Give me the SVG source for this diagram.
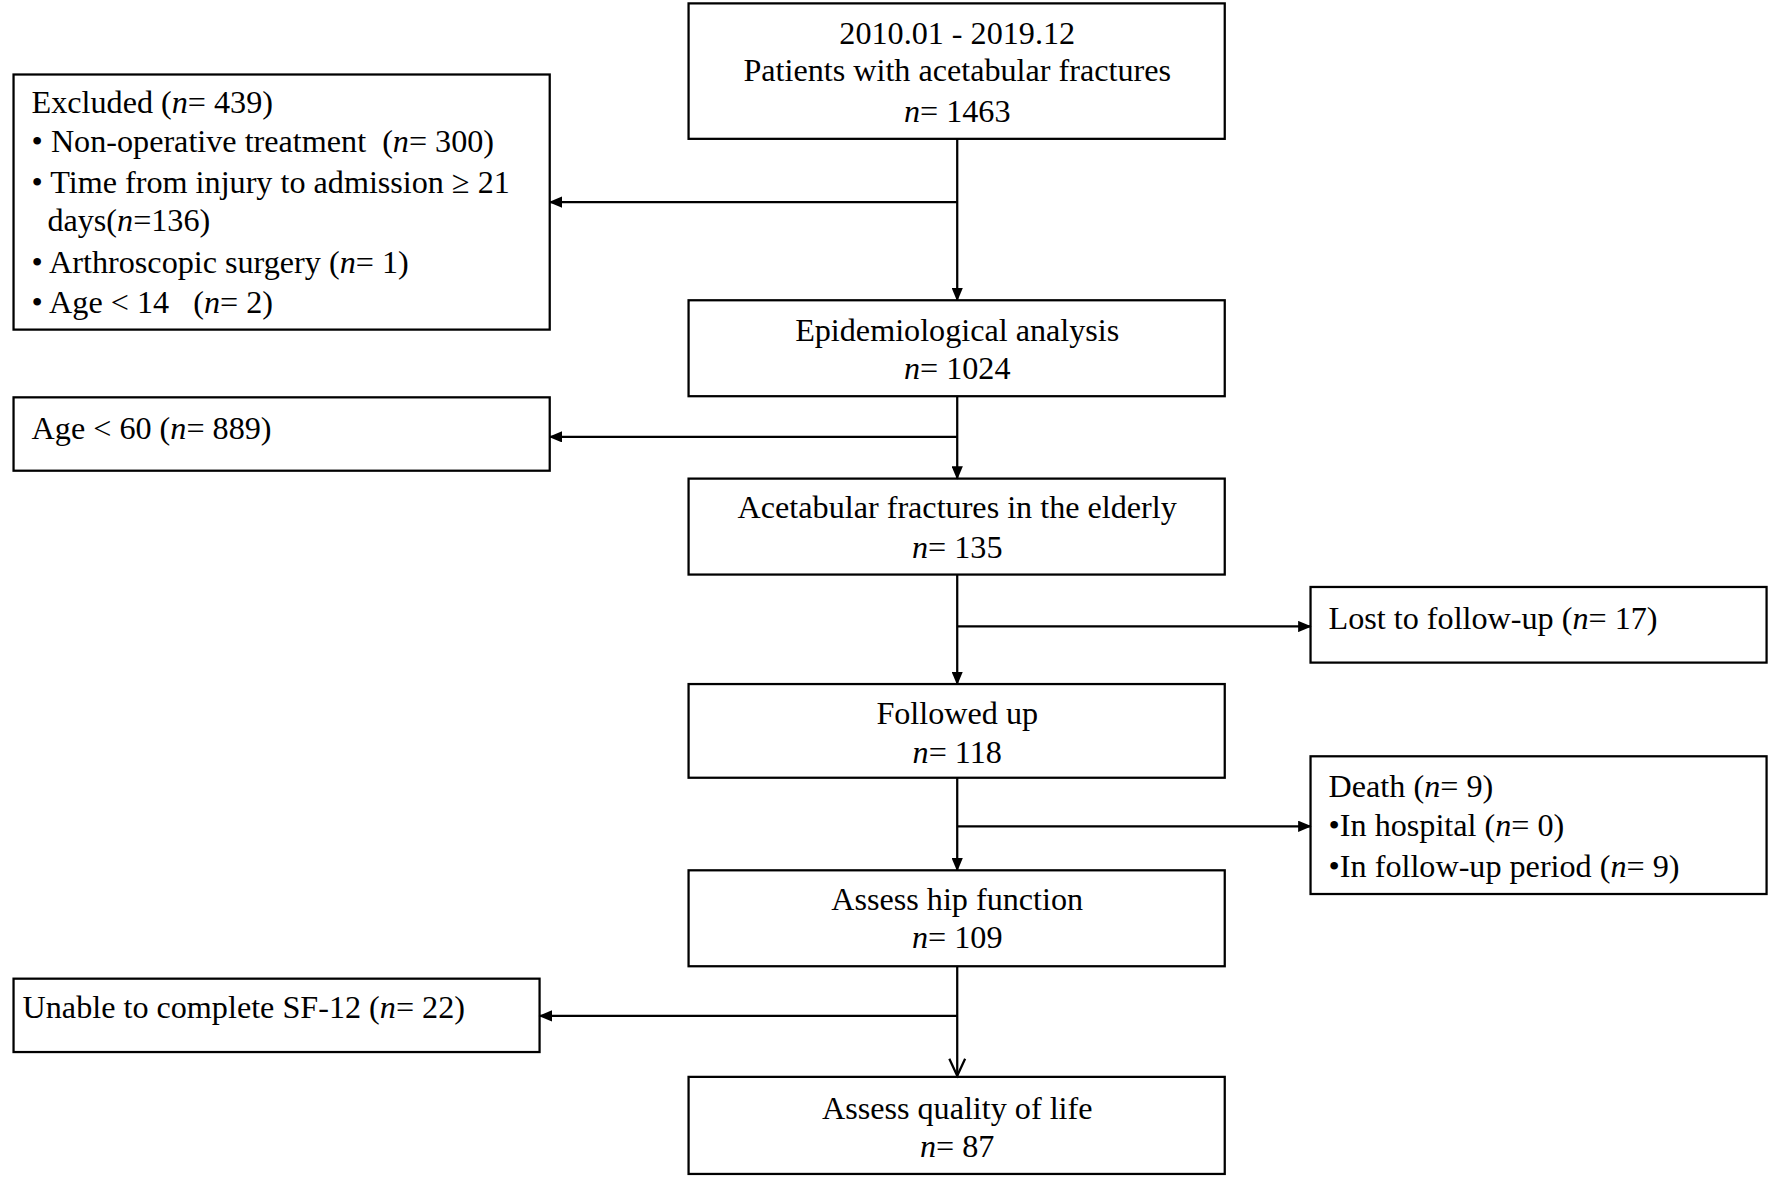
<svg xmlns="http://www.w3.org/2000/svg" width="1770" height="1178" viewBox="0 0 1770 1178">
<defs>
<marker id="ah" markerWidth="12" markerHeight="10" refX="11" refY="5" orient="auto" markerUnits="userSpaceOnUse">
<path d="M0,0 L12,5 L0,10 Z" fill="#000"/>
</marker>
<style>
.b{fill:#fff;stroke:#000;stroke-width:2}
text{font-family:"Liberation Serif","Times New Roman",serif;font-size:28.5px;fill:#000;white-space:pre}
.c{text-anchor:middle}
.l{stroke:#000;stroke-width:2;fill:none}
</style>
</defs>
<rect width="1770" height="1178" fill="#fff"/>
<g transform="scale(1.1288)">
<g id="n1"><rect class="b" x="610" y="3" width="475" height="120"/>
<text class="c" x="848" y="39">2010.01 - 2019.12</text>
<text class="c" x="848" y="72">Patients with acetabular fractures</text>
<text class="c" x="848" y="108"><tspan font-style="italic">n</tspan>= 1463</text></g>
<g id="n2"><rect class="b" x="12" y="66" width="475" height="226"/>
<text x="28" y="100">Excluded (<tspan font-style="italic">n</tspan>= 439)</text>
<text x="28" y="135">• Non-operative treatment  (<tspan font-style="italic">n</tspan>= 300)</text>
<text x="28" y="171">• Time from injury to admission ≥ 21</text>
<text x="42" y="205">days(<tspan font-style="italic">n</tspan>=136)</text>
<text x="28" y="242">• Arthroscopic surgery (<tspan font-style="italic">n</tspan>= 1)</text>
<text x="28" y="277">• Age &lt; 14   (<tspan font-style="italic">n</tspan>= 2)</text></g>
<g id="n3"><rect class="b" x="610" y="266" width="475" height="85"/>
<text class="c" x="848" y="302">Epidemiological analysis</text>
<text class="c" x="848" y="336"><tspan font-style="italic">n</tspan>= 1024</text></g>
<g id="n4"><rect class="b" x="12" y="352" width="475" height="65"/>
<text x="28" y="389">Age &lt; 60 (<tspan font-style="italic">n</tspan>= 889)</text></g>
<g id="n5"><rect class="b" x="610" y="424" width="475" height="85"/>
<text class="c" x="848" y="459">Acetabular fractures in the elderly</text>
<text class="c" x="848" y="494"><tspan font-style="italic">n</tspan>= 135</text></g>
<g id="n6"><rect class="b" x="1161" y="520" width="404" height="67"/>
<text x="1177" y="557">Lost to follow-up (<tspan font-style="italic">n</tspan>= 17)</text></g>
<g id="n7"><rect class="b" x="610" y="606" width="475" height="83"/>
<text class="c" x="848" y="641">Followed up</text>
<text class="c" x="848" y="676"><tspan font-style="italic">n</tspan>= 118</text></g>
<g id="n8"><rect class="b" x="1161" y="670" width="404" height="122"/>
<text x="1177" y="706">Death (<tspan font-style="italic">n</tspan>= 9)</text>
<text x="1177" y="741">•In hospital (<tspan font-style="italic">n</tspan>= 0)</text>
<text x="1177" y="777">•In follow-up period (<tspan font-style="italic">n</tspan>= 9)</text></g>
<g id="n9"><rect class="b" x="610" y="771" width="475" height="85"/>
<text class="c" x="848" y="806">Assess hip function</text>
<text class="c" x="848" y="840"><tspan font-style="italic">n</tspan>= 109</text></g>
<g id="n10"><rect class="b" x="12" y="867" width="466" height="65"/>
<text x="20" y="902">Unable to complete SF-12 (<tspan font-style="italic">n</tspan>= 22)</text></g>
<g id="n11"><rect class="b" x="610" y="954" width="475" height="86"/>
<text class="c" x="848" y="991">Assess quality of life</text>
<text class="c" x="848" y="1025"><tspan font-style="italic">n</tspan>= 87</text></g>
<g id="connectors">
<line class="l" x1="848" y1="123" x2="848" y2="266" marker-end="url(#ah)"/>
<line class="l" x1="848" y1="179" x2="487" y2="179" marker-end="url(#ah)"/>
<line class="l" x1="848" y1="351" x2="848" y2="424" marker-end="url(#ah)"/>
<line class="l" x1="848" y1="387" x2="487" y2="387" marker-end="url(#ah)"/>
<line class="l" x1="848" y1="509" x2="848" y2="606" marker-end="url(#ah)"/>
<line class="l" x1="848" y1="555" x2="1161" y2="555" marker-end="url(#ah)"/>
<line class="l" x1="848" y1="689" x2="848" y2="771" marker-end="url(#ah)"/>
<line class="l" x1="848" y1="732" x2="1161" y2="732" marker-end="url(#ah)"/>
<line class="l" x1="848" y1="856" x2="848" y2="953"/>
<path class="l" d="M841,938 L848,953 L855,938"/>
<line class="l" x1="848" y1="900" x2="478" y2="900" marker-end="url(#ah)"/>
</g>
</g>
</svg>
